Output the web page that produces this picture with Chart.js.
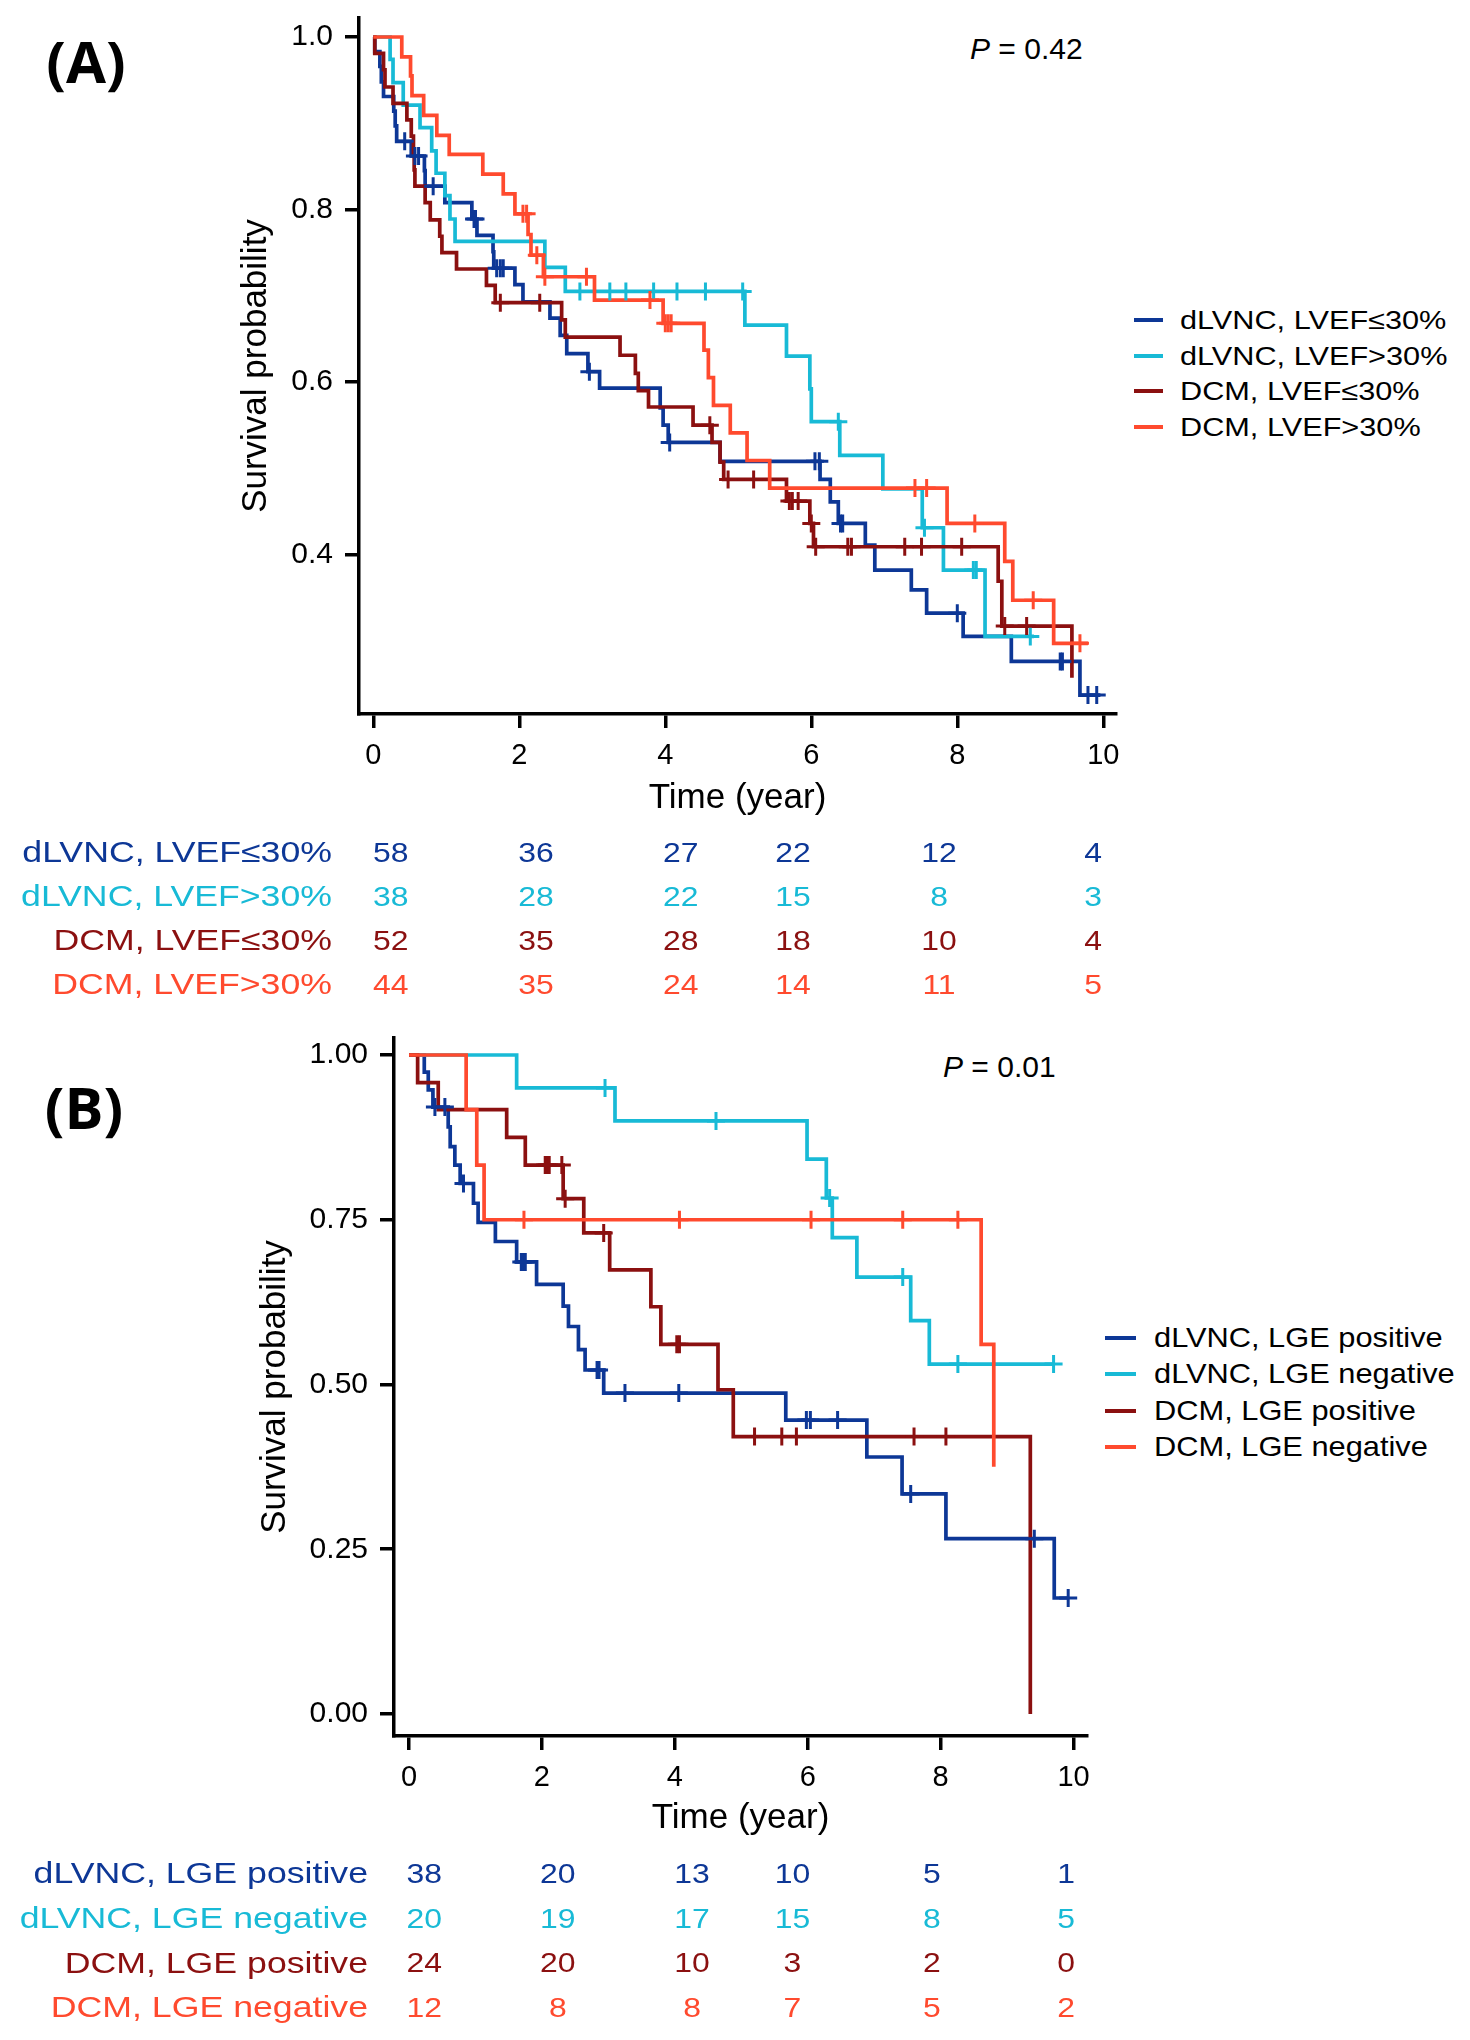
<!DOCTYPE html>
<html>
<head>
<meta charset="utf-8">
<script src="https://cdn.jsdelivr.net/npm/chart.js@4.4.1/dist/chart.umd.min.js"></script>
<style>
  html, body { margin:0; padding:0; background:#fff; width:1470px; height:2040px; overflow:hidden; }
  body { position:relative; font-family:'Liberation Sans', Arial, sans-serif; color:#000; }
  canvas { position:absolute; }
  .t { position:absolute; white-space:nowrap; line-height:1; }
  .panel { font-family:'Open Sans', 'Liberation Sans', sans-serif; font-weight:700; font-size:58px; transform:translate(-50%,-50%); }
  .pval { font-size:30px; transform:translateY(-50%); }
  .legbar { position:absolute; height:4px; }
  .legtxt { position:absolute; white-space:nowrap; line-height:1; transform-origin:0 50%; }
</style>
</head>
<body>
<div class="t panel" style="left:86px; top:61px;">(A)</div>
<div class="t panel" style="left:84px; top:1107px;">(B)</div>
<div class="t pval" style="left:970px; top:49px;"><i>P</i> = 0.42</div>
<div class="t pval" style="left:943px; top:1067px;"><i>P</i> = 0.01</div>
<div id="legA"></div>
<div id="legB"></div>

<canvas id="kmA" width="1470" height="852" style="left:0; top:-22px; width:1470px; height:852px;"></canvas>
<canvas id="riskA" width="1470" height="296" style="left:0; top:770px; width:1470px; height:296px;"></canvas>
<canvas id="kmB" width="1470" height="850" style="left:0; top:1000px; width:1470px; height:850px;"></canvas>
<canvas id="riskB" width="1470" height="298" style="left:0; top:1790px; width:1470px; height:298px;"></canvas>

<script>
// ---------------- DATA ----------------
const xTicks = [0, 2, 4, 6, 8, 10];
const yTicksA = [0.4, 0.6, 0.8, 1.0];
const yTicksB = [0, 0.25, 0.5, 0.75, 1.0];

// Panel A groups
const groupsA = ['dLVNC, LVEF≤30%', 'dLVNC, LVEF>30%', 'DCM, LVEF≤30%', 'DCM, LVEF>30%'];
// Panel B groups
const groupsB = ['dLVNC, LGE positive', 'dLVNC, LGE negative', 'DCM, LGE positive', 'DCM, LGE negative'];

// Panel A: event times, survival after each event, censor times, end of follow-up
const A1_t = [0.02,0.09,0.11,0.14,0.28,0.30,0.32,0.52,0.70,0.71,0.98,1.35,1.42,1.64,1.65,1.94,2.05,2.42,2.56,2.65,2.94,3.10,3.93,3.97,4.04,4.75,6.12,6.26,6.37,6.74,6.87,7.37,7.58,8.08,8.74,9.68];
const A1_s = [0.983,0.966,0.948,0.931,0.914,0.897,0.879,0.862,0.845,0.827,0.808,0.789,0.770,0.751,0.732,0.713,0.693,0.674,0.654,0.633,0.612,0.593,0.570,0.550,0.530,0.508,0.487,0.461,0.436,0.411,0.382,0.359,0.332,0.305,0.276,0.237];
const A1_c = [0.43,0.57,0.62,0.82,1.38,1.40,1.69,1.74,1.78,2.96,4.06,6.05,6.11,6.40,6.43,8.00,9.41,9.44,9.79,9.91];
const A1_end = 9.96;

const A2_t = [0.23,0.27,0.41,0.64,0.80,0.86,0.98,1.05,1.12,2.35,2.63,5.09,5.66,5.98,6.00,6.39,6.98,7.52,7.81,8.38];
const A2_s = [0.974,0.947,0.921,0.895,0.868,0.842,0.816,0.789,0.763,0.733,0.705,0.666,0.630,0.592,0.554,0.515,0.476,0.431,0.382,0.305];
const A2_c = [2.83,3.24,3.46,3.84,4.16,4.55,5.06,6.37,7.55,8.22,8.26,9.00];
const A2_end = 9.05;

const A3_t = [0.02,0.14,0.16,0.27,0.46,0.52,0.55,0.56,0.57,0.71,0.78,0.91,0.94,1.14,1.55,1.67,2.58,2.63,3.38,3.59,3.63,3.77,4.38,4.64,4.75,4.80,5.66,5.98,6.03,8.56,8.61,9.57];
const A3_s = [0.981,0.962,0.942,0.923,0.904,0.885,0.865,0.846,0.827,0.808,0.788,0.769,0.750,0.731,0.712,0.692,0.672,0.652,0.631,0.610,0.590,0.571,0.550,0.530,0.507,0.487,0.462,0.436,0.409,0.369,0.317,0.257];
const A3_c = [1.74,2.28,4.61,4.86,5.21,5.70,5.74,5.82,6.00,6.06,6.50,6.55,7.28,7.51,8.06,8.65,8.95];
const A3_end = 9.57;

const A4_t = [0.39,0.51,0.53,0.69,0.87,1.04,1.50,1.78,1.94,2.12,2.16,2.33,3.03,3.97,4.53,4.59,4.66,4.89,5.12,5.43,7.86,8.65,8.76,9.32];
const A4_s = [0.977,0.955,0.932,0.909,0.886,0.864,0.841,0.818,0.795,0.771,0.747,0.722,0.695,0.668,0.637,0.605,0.573,0.541,0.509,0.477,0.436,0.392,0.347,0.297];
const A4_c = [2.05,2.10,2.24,2.35,2.92,3.79,4.00,4.04,4.08,7.42,7.58,8.24,9.04,9.68];
const A4_end = 9.79;

// Panel B
const B1_t = [0.23,0.29,0.36,0.59,0.62,0.69,0.77,0.97,1.04,1.30,1.62,1.92,2.32,2.40,2.55,2.65,2.93,5.67,6.89,7.42,8.08,9.71];
const B1_s = [0.974,0.947,0.921,0.891,0.861,0.833,0.805,0.775,0.746,0.717,0.686,0.652,0.619,0.588,0.553,0.522,0.487,0.446,0.390,0.334,0.266,0.176];
const B1_c = [0.39,0.54,0.82,1.69,1.72,1.75,2.83,2.86,3.25,4.06,5.98,6.04,6.45,7.55,9.41,9.92];
const B1_end = 9.92;

const B2_t = [1.62,3.10,5.99,6.28,6.37,6.74,7.55,7.83];
const B2_s = [0.950,0.900,0.842,0.783,0.723,0.663,0.597,0.531];
const B2_c = [2.95,4.62,6.33,7.43,8.26,9.70];
const B2_end = 9.70;

const B3_t = [0.13,0.44,1.47,1.75,2.32,2.63,3.02,3.64,3.79,4.65,4.88,9.35];
const B3_s = [0.958,0.917,0.875,0.833,0.782,0.730,0.674,0.618,0.561,0.492,0.421,0.0];
const B3_c = [2.05,2.08,2.11,2.30,2.35,2.93,4.03,4.07,5.20,5.61,5.83,7.60,8.08];
const B3_end = 9.35;

const B4_t = [0.86,1.02,1.13,8.61,8.80];
const B4_s = [0.917,0.833,0.750,0.561,0.375];
const B4_c = [1.73,4.07,6.05,7.43,8.26];
const B4_end = 8.80;

// Numbers at risk (column positions on the time axis)
const riskTimesA = [0.24, 2.23, 4.21, 5.75, 7.75, 9.86];
const riskA1 = [58, 36, 27, 22, 12, 4];
const riskA2 = [38, 28, 22, 15, 8, 3];
const riskA3 = [52, 35, 28, 18, 10, 4];
const riskA4 = [44, 35, 24, 14, 11, 5];

const riskTimesB = [0.23, 2.24, 4.26, 5.77, 7.87, 9.89];
const riskB1 = [38, 20, 13, 10, 5, 1];
const riskB2 = [20, 19, 17, 15, 8, 5];
const riskB3 = [24, 20, 10, 3, 2, 0];
const riskB4 = [12, 8, 8, 7, 5, 2];

// ---------------- STYLE ----------------
const FONT = "'Liberation Sans', Arial, sans-serif";
const colors = ['#0D3796', '#18BAD6', '#8B1010', '#FF4A2E'];
Chart.defaults.font.family = FONT;
Chart.defaults.color = '#000';

// ---------------- HELPERS ----------------
function stepPoints(ts, ss, end) {
  const pts = [{x: 0, y: 1}];
  ts.forEach((t, i) => pts.push({x: t, y: ss[i]}));
  const last = pts[pts.length - 1];
  if (end > last.x) pts.push({x: end, y: last.y});
  return pts;
}
function survAt(ts, ss, c) {
  let s = 1;
  ts.forEach((t, i) => { if (t <= c) s = ss[i]; });
  return s;
}
function kmDatasets(series) {
  const ds = [];
  series.forEach((se, k) => {
    ds.push({
      type: 'line', label: se.name, data: stepPoints(se.t, se.s, se.end),
      borderColor: colors[k], backgroundColor: colors[k], borderWidth: 3.7,
      pointRadius: 0, stepped: 'before', fill: false, tension: 0, order: 10 - k
    });
    ds.push({
      type: 'scatter', label: se.name + ' (censored)',
      data: se.c.map(c => ({x: c, y: survAt(se.t, se.s, c)})),
      pointStyle: 'cross', pointRadius: 9, pointBorderWidth: 3,
      pointBorderColor: colors[k], borderColor: colors[k], backgroundColor: colors[k],
      showLine: false, order: 5 - k
    });
  });
  return ds;
}
const axisGrid = {display: true, drawOnChartArea: false, drawTicks: true, tickLength: 14,
                  tickWidth: 3.5, tickColor: '#000', color: '#000', lineWidth: 3.5};
const axisBorder = {display: true, color: '#000', width: 3.5};

function kmChart(id, series, cfg) {
  return new Chart(document.getElementById(id), {
    type: 'line',
    data: {datasets: kmDatasets(series)},
    options: {
      responsive: false, animation: false, events: [],
      layout: {padding: {top: cfg.padTop, left: 0, right: cfg.padRight, bottom: 0}},
      plugins: {legend: {display: false}, tooltip: {enabled: false}},
      scales: {
        x: {
          type: 'linear', min: cfg.xmin, max: cfg.xmax,
          afterBuildTicks: s => { s.ticks = xTicks.map(v => ({value: v})); },
          afterFit: s => { s.height = cfg.xAxisH; },
          ticks: {color: '#000', font: {size: 29}, padding: 11, maxRotation: 0, autoSkip: false,
                  callback: v => String(v)},
          grid: axisGrid, border: axisBorder,
          title: {display: true, text: 'Time (year)', color: '#000', font: {size: 35},
                  padding: {top: 0, bottom: 11}}
        },
        y: {
          type: 'linear', min: cfg.ymin, max: cfg.ymax,
          afterBuildTicks: s => { s.ticks = cfg.yTicks.map(v => ({value: v})); },
          afterFit: s => { s.width = cfg.yAxisW; },
          ticks: {color: '#000', font: {size: 30}, padding: 12, autoSkip: false,
                  callback: v => Number(v).toFixed(cfg.dec)},
          grid: axisGrid, border: axisBorder,
          title: {display: true, text: 'Survival probability', color: '#000', font: {size: 35},
                  padding: {top: cfg.yTitlePad, bottom: 0}}
        }
      }
    }
  });
}

// draws the group labels (from the y scale) and the numbers at risk (from the points)
const riskText = {
  id: 'riskText',
  afterDatasetsDraw(chart, args, opts) {
    const ctx = chart.ctx;
    const ys = chart.scales.y;
    ctx.save();
    ctx.textBaseline = 'middle';
    ctx.font = opts.labelSize + 'px ' + FONT;
    ctx.textAlign = 'right';
    ys.ticks.forEach((tk, i) => {
      ctx.save();
      ctx.translate(ys.right - opts.labelPad, ys.getPixelForTick(i) + 1);
      ctx.scale(opts.labelStretch, 1);
      ctx.fillStyle = colors[i];
      ctx.fillText(ys.getLabelForValue(tk.value), 0, 0);
      ctx.restore();
    });
    ctx.font = opts.numSize + 'px ' + FONT;
    ctx.textAlign = 'center';
    chart.data.datasets.forEach((ds, i) => {
      const meta = chart.getDatasetMeta(i);
      meta.data.forEach((pt, j) => {
        ctx.save();
        ctx.translate(pt.x, pt.y + 1);
        ctx.scale(opts.numStretch, 1);
        ctx.fillStyle = colors[i];
        ctx.fillText(String(ds.data[j].n), 0, 0);
        ctx.restore();
      });
    });
    ctx.restore();
  }
};

function riskChart(id, groups, times, counts, cfg) {
  return new Chart(document.getElementById(id), {
    type: 'scatter',
    data: {
      datasets: counts.map((row, i) => ({
        label: groups[i],
        data: row.map((n, j) => ({x: times[j], y: groups[i], n: n})),
        pointRadius: 0
      }))
    },
    options: {
      responsive: false, animation: false, events: [],
      layout: {padding: {top: cfg.padTop, bottom: cfg.padBottom, left: 0, right: cfg.padRight}},
      plugins: {legend: {display: false}, tooltip: {enabled: false},
                riskText: {labelSize: 29, labelStretch: 1.23, labelPad: cfg.labelPad,
                           numSize: 28, numStretch: 1.14}},
      scales: {
        x: {type: 'linear', display: false, min: cfg.xmin, max: cfg.xmax},
        y: {
          type: 'category', labels: groups, offset: true,
          afterFit: s => { s.width = cfg.yAxisW; },
          grid: {display: false}, border: {display: false},
          ticks: {display: false}
        }
      }
    },
    plugins: [riskText]
  });
}

function htmlLegend(id, groups, cfg) {
  const host = document.getElementById(id);
  groups.forEach((g, i) => {
    const y = cfg.top + i * cfg.step;
    const bar = document.createElement('div');
    bar.className = 'legbar';
    bar.style.cssText = `left:${cfg.barX}px; top:${y - 2}px; width:${cfg.barW}px; background:${colors[i]};`;
    const txt = document.createElement('div');
    txt.className = 'legtxt';
    txt.style.cssText = `left:${cfg.textX}px; top:${y}px; font-size:${cfg.size}px; transform:translateY(-50%) scaleX(${cfg.stretch});`;
    txt.textContent = g;
    host.appendChild(bar); host.appendChild(txt);
  });
}

// ---------------- BUILD ----------------
const seriesA = [
  {name: groupsA[0], t: A1_t, s: A1_s, c: A1_c, end: A1_end},
  {name: groupsA[1], t: A2_t, s: A2_s, c: A2_c, end: A2_end},
  {name: groupsA[2], t: A3_t, s: A3_s, c: A3_c, end: A3_end},
  {name: groupsA[3], t: A4_t, s: A4_s, c: A4_c, end: A4_end}
];
const seriesB = [
  {name: groupsB[0], t: B1_t, s: B1_s, c: B1_c, end: B1_end},
  {name: groupsB[1], t: B2_t, s: B2_s, c: B2_c, end: B2_end},
  {name: groupsB[2], t: B3_t, s: B3_s, c: B3_c, end: B3_end},
  {name: groupsB[3], t: B4_t, s: B4_s, c: B4_c, end: B4_end}
];

// canvas A starts at y=-22: padTop 40 puts the panel top at y=18, axis at y=714
const cfgA = {xmin: -0.196, xmax: 10.174, ymin: 0.2151, ymax: 1.022, yTicks: yTicksA, dec: 1,
              padTop: 40, padRight: 354, xAxisH: 116, yAxisW: 359, yTitlePad: 235};
const cfgB = {xmin: -0.2257, xmax: 10.203, ymin: -0.0334, ymax: 1.0258, yTicks: yTicksB, dec: 2,
              padTop: 38, padRight: 383, xAxisH: 114, yAxisW: 394, yTitlePad: 254};

kmChart('kmA', seriesA, cfgA);
kmChart('kmB', seriesB, cfgB);

riskChart('riskA', groupsA, riskTimesA, [riskA1, riskA2, riskA3, riskA4],
  {xmin: cfgA.xmin, xmax: cfgA.xmax, padTop: 61, padBottom: 59, padRight: 354, yAxisW: 359, labelPad: 27});
riskChart('riskB', groupsB, riskTimesB, [riskB1, riskB2, riskB3, riskB4],
  {xmin: cfgB.xmin, xmax: cfgB.xmax, padTop: 62.2, padBottom: 57.5, padRight: 383, yAxisW: 394, labelPad: 26});

htmlLegend('legA', groupsA, {top: 320, step: 35.5, barX: 1134, barW: 29, textX: 1180, size: 26, stretch: 1.18});
htmlLegend('legB', groupsB, {top: 1338, step: 36.3, barX: 1105, barW: 31, textX: 1154, size: 28, stretch: 1.10});
</script>
</body>
</html>
